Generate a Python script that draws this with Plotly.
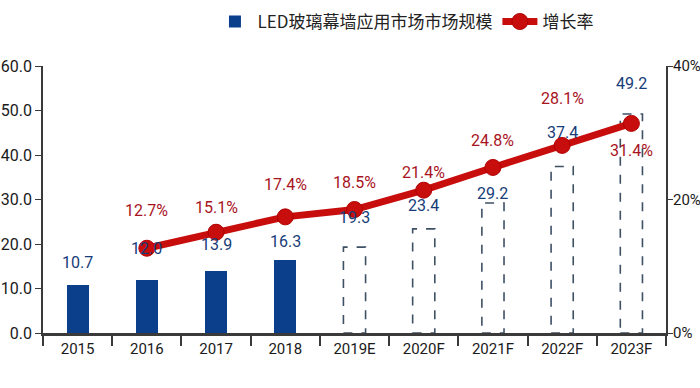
import plotly.graph_objects as go

categories = ["2015", "2016", "2017", "2018", "2019E", "2020F", "2021F", "2022F", "2023F"]
market_size = [10.7, 12.0, 13.9, 16.3, 19.3, 23.4, 29.2, 37.4, 49.2]
is_forecast = [False, False, False, False, True, True, True, True, True]
growth_cats = ["2016", "2017", "2018", "2019E", "2020F", "2021F", "2022F", "2023F"]
growth_rate = [12.7, 15.1, 17.4, 18.5, 21.4, 24.8, 28.1, 31.4]
left_ticks = [0, 10, 20, 30, 40, 50, 60]
right_ticks = [0, 20, 40]

# label placement (pixels above the mark)
bar_label_shift = [23, 31, 27, 19, 30, 23, 10, 34, 31]
rate_label_shift = [38, 25, 32, 27, 18, 27, 47, -27]

NAVY = "#0b3f8c"
RED = "#c80d0d"
LABEL_RED = "#a8141e"
LABEL_BLUE = "#173d78"
AXIS = "#3a3a3a"
NUM_FONT = "Roboto, Liberation Sans, sans-serif"
BAR_W = 0.32

fig = go.Figure()

hist_x = [c for c, f in zip(categories, is_forecast) if not f]
hist_y = [v for v, f in zip(market_size, is_forecast) if not f]
fc_x = [c for c, f in zip(categories, is_forecast) if f]
fc_y = [v for v, f in zip(market_size, is_forecast) if f]

fig.add_trace(go.Bar(
    x=hist_x, y=hist_y, name="LED玻璃幕墙应用市场市场规模",
    marker=dict(color=NAVY, line=dict(width=0)), width=BAR_W,
))
fig.add_trace(go.Bar(
    x=fc_x, y=fc_y, showlegend=False,
    marker=dict(color="rgba(0,0,0,0)", line=dict(width=0)), width=BAR_W,
))

# dashed outlines for forecast bars
for i, (v, f) in enumerate(zip(market_size, is_forecast)):
    if f:
        fig.add_shape(type="rect", xref="x", yref="y",
                      x0=i - BAR_W / 2, x1=i + BAR_W / 2, y0=0, y1=v,
                      line=dict(color="#3e5064", width=1.6, dash="dash"),
                      fillcolor="white", layer="below")

fig.add_trace(go.Scatter(
    x=growth_cats, y=[g / 100 for g in growth_rate], yaxis="y2",
    name="增长率", mode="lines+markers",
    line=dict(color=RED, width=7),
    marker=dict(color=RED, size=16, line=dict(color="#b00000", width=1)),
))

for i, (v, s) in enumerate(zip(market_size, bar_label_shift)):
    fig.add_annotation(x=i, y=v, xref="x", yref="y", text=f"{v:.1f}",
                       showarrow=False, yshift=s, yanchor="middle",
                       font=dict(family=NUM_FONT, size=16, color=LABEL_BLUE))

for c, g, s in zip(growth_cats, growth_rate, rate_label_shift):
    i = categories.index(c)
    fig.add_annotation(x=i, y=g / 100, xref="x", yref="y2", text=f"{g:.1f}%",
                       showarrow=False, yshift=s, yanchor="middle",
                       font=dict(family=NUM_FONT, size=16, color=LABEL_RED))

# right-axis tick labels
for t in right_ticks:
    fig.add_annotation(x=1, y=t / 100, xref="paper", yref="y2", text=f"{t}%",
                       showarrow=False, xanchor="left", yanchor="middle",
                       xshift=5, font=dict(family=NUM_FONT, size=15, color="#1a1a1a"))

fig.update_layout(
    width=700, height=388,
    margin=dict(l=43, r=34, t=66, b=55, autoexpand=False),
    plot_bgcolor="white", paper_bgcolor="white",
    barmode="overlay",
    bargap=0,
    legend=dict(orientation="h", x=0.272, y=1.165, xanchor="left", yanchor="middle",
                font=dict(family="Noto Sans CJK SC", size=17, color="#222"),
                itemwidth=35, bgcolor="rgba(0,0,0,0)"),
    xaxis=dict(type="category", categoryorder="array", categoryarray=categories,
               range=[-0.5, len(categories) - 0.5], automargin=False,
               showline=True, linecolor=AXIS, linewidth=3,
               ticks="outside", tickson="boundaries", ticklen=10, tickwidth=1.5,
               tickcolor=AXIS, showgrid=False,
               tickfont=dict(family=NUM_FONT, size=15, color="#1a1a1a")),
    yaxis=dict(range=[0, 60], tickvals=left_ticks, automargin=False,
               ticktext=[f"{t:.1f}" for t in left_ticks],
               showline=True, linecolor=AXIS, linewidth=1.5,
               ticks="outside", ticklen=6, tickcolor=AXIS, showgrid=False,
               zeroline=False,
               tickfont=dict(family=NUM_FONT, size=16, color="#1a1a1a")),
    yaxis2=dict(range=[0, 0.4], overlaying="y", side="right", automargin=False,
                tickvals=[t / 100 for t in right_ticks],
                showticklabels=False,
                showline=True, linecolor=AXIS, linewidth=1.5,
                ticks="outside", ticklen=5, tickcolor=AXIS, showgrid=False,
                zeroline=False),
)

fig.write_html("out.html", config={"displayModeBar": False},
               post_script="document.body.style.margin='0';document.body.style.padding='0';")
